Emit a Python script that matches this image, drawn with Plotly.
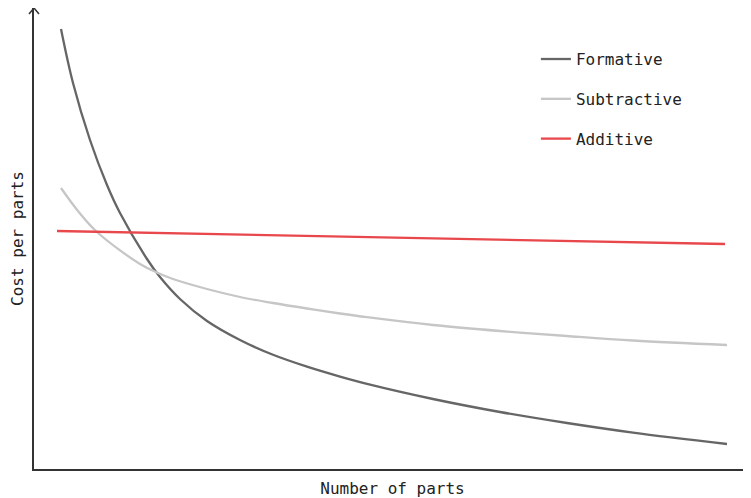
import plotly.graph_objects as go

# Arbitrary units (x: number of parts, y: cost per part)
formative_x = [27, 39, 56, 73, 86, 113, 126, 146, 173, 206, 239, 273, 306, 333, 399, 466, 533, 599, 693]
formative_y = [440, 386, 329, 284, 256, 210, 192, 170, 148, 129, 114.2, 102.3, 92.4, 85.1, 70, 57, 46, 36.4, 25]

subtractive_x = [27, 44, 63, 106, 124, 139, 173, 206, 239, 273, 306, 333, 399, 466, 533, 599, 693]
subtractive_y = [281, 258, 237, 205, 196, 190, 180, 172, 166, 160.5, 155.5, 151.8, 144, 138, 133, 128.5, 124]

additive_x = [23, 691]
additive_y = [238, 225]

names = ["Formative", "Subtractive", "Additive"]
colors = ["#666666", "#c6c6c6", "#e8474c"]

FONT = "DejaVu Sans Mono"

fig = go.Figure()
for i, (xs, ys) in enumerate([(formative_x, formative_y), (subtractive_x, subtractive_y), (additive_x, additive_y)]):
    fig.add_trace(go.Scatter(
        x=xs, y=ys, mode="lines", name=names[i], legendgroup=names[i],
        line=dict(color=colors[i], width=2.3, shape="spline", smoothing=1.0),
        hoverinfo="skip",
    ))

fig.update_layout(
    width=751, height=498,
    margin=dict(l=26, r=8, t=0, b=37),
    paper_bgcolor="white", plot_bgcolor="white",
    font=dict(family=FONT, size=16, color="#222222"),
    showlegend=True,
    legend=dict(x=0.700, y=0.926, xanchor="left", yanchor="top",
                bgcolor="rgba(0,0,0,0)", itemwidth=30, tracegroupgap=16,
                font=dict(family=FONT, size=16, color="#222222")),
    xaxis=dict(range=[0, 717], showgrid=False, zeroline=False, showticklabels=False,
               ticks="", showline=True, linecolor="#333333", linewidth=1.5,
               automargin=False,
               title=dict(text="Number of parts", standoff=13,
                          font=dict(family=FONT, size=16, color="#222222")),
               fixedrange=True),
    yaxis=dict(range=[0, 461], showgrid=False, zeroline=False, showticklabels=False,
               ticks="", showline=True, linecolor="#333333", linewidth=1.5,
               automargin=False,
               title=dict(text="Cost per parts", standoff=6,
                          font=dict(family=FONT, size=16, color="#222222")),
               fixedrange=True),
)

# arrowhead chevron at the top of the y axis
dx = 5 / 717
dy = 6 / 461
fig.add_shape(type="path", xref="paper", yref="paper",
              path=f"M {-dx} {1 - dy} L 0 1 L {dx} {1 - dy}",
              line=dict(color="#333333", width=1.5))

fig.write_html("out.html")
